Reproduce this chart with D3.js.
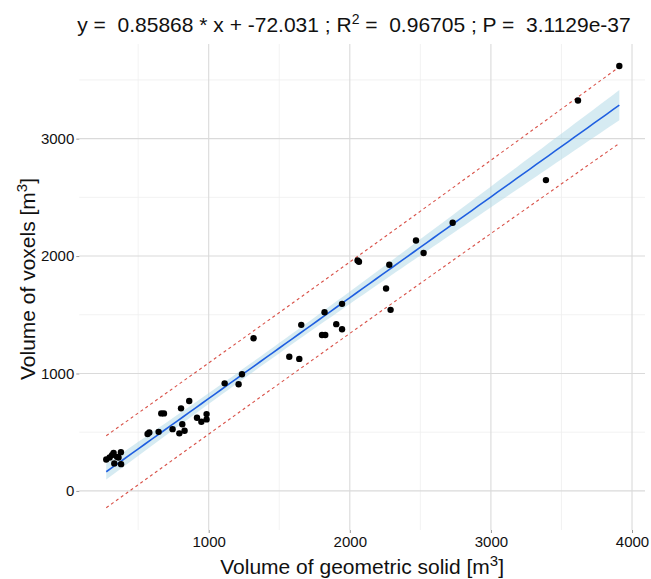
<!DOCTYPE html>
<html>
<head>
<meta charset="utf-8">
<script src="https://cdn.jsdelivr.net/npm/d3@7"></script>
<style>
  body { margin: 0; background: #fff; }
  text { font-family: "Liberation Sans", Arial, sans-serif; fill: #111; }
</style>
</head>
<body>
<div class="canvas"></div>
<script>
// measured values (m3)
var geomVol = [274, 298, 315, 326, 331, 350, 361, 378, 379,
    567, 579, 645, 664, 683, 744, 792, 804, 813, 829, 862, 917, 948, 985, 985,
    1113, 1212, 1236, 1318, 1571, 1642, 1656, 1803, 1826, 1821, 1904, 1945, 1945,
    2055, 2065, 2257, 2280, 2289, 2469, 2523, 2729, 3390, 3617, 3910];
var voxelVol = [268, 285, 305, 324, 234, 290, 285, 330, 228,
    484, 498, 503, 660, 660, 526, 490, 703, 567, 512, 765, 623, 589, 654, 609,
    916, 908, 993, 1300, 1143, 1124, 1414, 1328, 1328, 1522, 1420, 1377, 1593,
    1962, 1951, 1724, 1926, 1542, 2133, 2026, 2284, 2647, 3325, 3618];

// fit reported in the title
var slope = 0.85868, intercept = -72.031, rSquared = 0.96705, pValue = "3.1129e-37";
var tCrit = 2.013;

var xTicks = [1000, 2000, 3000, 4000];
var xMinor = [500, 1500, 2500, 3500];
var yTicks = [0, 1000, 2000, 3000];
var yMinor = [500, 1500, 2500, 3500];

var width = 651, height = 579;
var padL = 79.3, padR = 645, padT = 44, padB = 530;

var svg = d3.select(".canvas").append("svg")
    .attr("width", width)
    .attr("height", height);

var x = d3.scaleLinear().domain([83, 4092]).range([padL, padR]);
var y = d3.scaleLinear().domain([-333, 3806]).range([padB, padT]);

// grid
var grid = svg.append("g");
grid.selectAll(".xminor").data(xMinor).enter().append("line")
    .attr("x1", d => x(d)).attr("x2", d => x(d))
    .attr("y1", padT).attr("y2", padB)
    .style("stroke", "#efefef").style("stroke-width", 0.8);
grid.selectAll(".yminor").data(yMinor).enter().append("line")
    .attr("x1", padL).attr("x2", padR)
    .attr("y1", d => y(d)).attr("y2", d => y(d))
    .style("stroke", "#efefef").style("stroke-width", 0.8);
grid.selectAll(".xmajor").data(xTicks).enter().append("line")
    .attr("x1", d => x(d)).attr("x2", d => x(d))
    .attr("y1", padT).attr("y2", padB)
    .style("stroke", "#dadada").style("stroke-width", 1.1);
grid.selectAll(".ymajor").data(yTicks).enter().append("line")
    .attr("x1", padL).attr("x2", padR)
    .attr("y1", d => y(d)).attr("y2", d => y(d))
    .style("stroke", "#dadada").style("stroke-width", 1.1);

// axes (labels + little ticks)
var xAxis = svg.append("g")
    .attr("transform", "translate(0," + padB + ")")
    .call(d3.axisBottom(x).tickValues(xTicks).tickSize(3).tickPadding(3).tickFormat(d3.format("d")));
var yAxis = svg.append("g")
    .attr("transform", "translate(" + padL + ",0)")
    .call(d3.axisLeft(y).tickValues(yTicks).tickSize(3).tickPadding(2).tickFormat(d3.format("d")));
[xAxis, yAxis].forEach(function(a) {
    a.select(".domain").remove();
    a.selectAll("line").style("stroke", "#9a9a9a");
    a.selectAll("text").style("font-size", "15px").style("fill", "#111")
        .style("font-family", "'Liberation Sans', Arial, sans-serif");
});

// residual standard error around the reported line
var n = geomVol.length;
var meanX = d3.mean(geomVol);
var sxx = d3.sum(geomVol, d => (d - meanX) * (d - meanX));
var sse = d3.sum(geomVol, (d, i) => Math.pow(voxelVol[i] - (slope * d + intercept), 2));
var s = Math.sqrt(sse / (n - 2));

var xs = d3.range(0, 81).map(i => d3.min(geomVol) + (d3.max(geomVol) - d3.min(geomVol)) * i / 80);
var band = xs.map(function(v) {
    var fit = slope * v + intercept;
    var h = (v - meanX) * (v - meanX) / sxx;
    var ci = tCrit * s * Math.sqrt(1 / n + h);
    var pi = tCrit * s * Math.sqrt(1 + 1 / n + h);
    return {x: v, fit: fit, lo: fit - ci, hi: fit + ci, plo: fit - pi, phi: fit + pi};
});

svg.append("path").datum(band)
    .attr("d", d3.area().x(d => x(d.x)).y0(d => y(d.lo)).y1(d => y(d.hi)))
    .style("fill", "#add8e6").style("opacity", 0.5);

["plo", "phi"].forEach(function(k) {
    svg.append("path").datum(band)
        .attr("d", d3.line().x(d => x(d.x)).y(d => y(d[k])))
        .style("fill", "none").style("stroke", "#d9534a")
        .style("stroke-width", 1.1).style("stroke-dasharray", "3,3");
});

svg.append("path").datum(band)
    .attr("d", d3.line().x(d => x(d.x)).y(d => y(d.fit)))
    .style("fill", "none").style("stroke", "#1f5fe0").style("stroke-width", 1.6);

// points
svg.append("g").selectAll("circle").data(geomVol).enter().append("circle")
    .attr("cx", d => x(d))
    .attr("cy", (d, i) => y(voxelVol[i]))
    .attr("r", 3.2)
    .style("fill", "#000");

// title
var title = svg.append("text")
    .attr("x", 354).attr("y", 32)
    .attr("text-anchor", "middle")
    .style("font-size", "21px")
    .style("white-space", "pre");
title.append("tspan").text("y =  " + slope + " * x + " + intercept + " ; R");
title.append("tspan").attr("dy", -8).style("font-size", "14px").text("2");
title.append("tspan").attr("dy", 8).text(" =  " + rSquared + " ; P =  " + pValue);

// axis titles
var xt = svg.append("text")
    .attr("x", (padL + padR) / 2).attr("y", 574)
    .attr("text-anchor", "middle")
    .style("font-size", "21px");
xt.append("tspan").text("Volume of geometric solid [m");
xt.append("tspan").attr("dy", -8).style("font-size", "15px").text("3");
xt.append("tspan").attr("dy", 8).text("]");

var yt = svg.append("text")
    .attr("transform", "translate(35," + ((padT + padB) / 2 - 8) + ") rotate(-90)")
    .attr("text-anchor", "middle")
    .style("font-size", "21px");
yt.append("tspan").text("Volume of voxels [m");
yt.append("tspan").attr("dy", -8).style("font-size", "15px").text("3");
yt.append("tspan").attr("dy", 8).text("]");
</script>
</body>
</html>
